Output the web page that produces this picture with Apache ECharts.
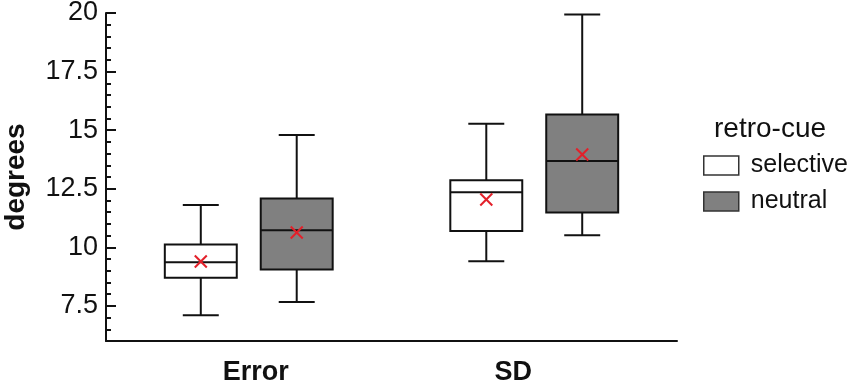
<!DOCTYPE html>
<html>
<head>
<meta charset="utf-8">
<script src="https://cdn.jsdelivr.net/npm/echarts@6/dist/echarts.min.js"></script>
<style>
  html, body { margin: 0; padding: 0; background: #fff; }
  #chartdiv { width: 850px; height: 384px; }
</style>
</head>
<body>
<div id="chartdiv"></div>
<script>
const categories = ["Error", "SD"];
const groups = ["selective", "neutral"];

// five-number summaries per group, one entry per category
const selMin = [7.1, 9.4];
const selQ1 = [8.7, 10.7];
const selMed = [9.36, 12.35];
const selQ3 = [10.12, 12.86];
const selMax = [11.8, 15.27];
const selMean = [9.39, 12.04];

const neuMin = [7.66, 10.51];
const neuQ1 = [9.05, 11.48];
const neuMed = [10.73, 13.68];
const neuQ3 = [12.08, 15.67];
const neuMax = [14.79, 19.94];
const neuMean = [10.63, 13.96];

const yTicks = [7.5, 10, 12.5, 15, 17.5, 20];

const FONT = "'Liberation Sans', Arial, sans-serif";

function buildRows(mn, q1, med, q3, mx, mean) {
  return categories.map((c, i) => [c, mn[i], q1[i], med[i], q3[i], mx[i], mean[i]]);
}

// draws one box with half-width whisker caps and a red mean cross
function boxRenderer(offset) {
  return function (params, api) {
    const cat = api.value(0);
    const band = api.size([1, 0])[0];
    const cx = api.coord([cat, 0])[0] + offset * band;
    const half = band * 0.126;
    const cap = half / 2;
    const yy = i => api.coord([cat, api.value(i)])[1];
    const yMin = yy(1), yQ1 = yy(2), yMed = yy(3), yQ3 = yy(4), yMax = yy(5), yMean = yy(6);
    const ln = { stroke: "#111", lineWidth: 2 };
    const red = { stroke: "#e3202a", lineWidth: 2 };
    const m = 6;
    return {
      type: "group",
      children: [
        { type: "line", shape: { x1: cx, y1: yMax, x2: cx, y2: yQ3 }, style: ln },
        { type: "line", shape: { x1: cx, y1: yQ1, x2: cx, y2: yMin }, style: ln },
        { type: "line", shape: { x1: cx - cap, y1: yMax, x2: cx + cap, y2: yMax }, style: ln },
        { type: "line", shape: { x1: cx - cap, y1: yMin, x2: cx + cap, y2: yMin }, style: ln },
        {
          type: "rect",
          shape: { x: cx - half, y: yQ3, width: half * 2, height: yQ1 - yQ3 },
          style: { fill: api.visual("color"), stroke: "#111", lineWidth: 2 }
        },
        { type: "line", shape: { x1: cx - half, y1: yMed, x2: cx + half, y2: yMed }, style: ln },
        { type: "line", shape: { x1: cx - m, y1: yMean - m, x2: cx + m, y2: yMean + m }, style: red },
        { type: "line", shape: { x1: cx - m, y1: yMean + m, x2: cx + m, y2: yMean - m }, style: red }
      ]
    };
  };
}

const chart = echarts.init(document.getElementById("chartdiv"));

const option = {
  animation: false,
  textStyle: { fontFamily: FONT },
  title: {
    text: "retro-cue",
    left: 709,
    top: 110,
    textStyle: { fontFamily: FONT, fontSize: 28, fontWeight: "normal", color: "#111" }
  },
  legend: {
    data: groups,
    orient: "vertical",
    left: 698,
    top: 148,
    icon: "rect",
    itemWidth: 35,
    itemHeight: 19,
    itemGap: 11,
    itemStyle: { borderColor: "#333", borderWidth: 1.5 },
    textStyle: { fontFamily: FONT, fontSize: 25, color: "#111", padding: [0, 0, 0, 7] }
  },
  grid: { left: 106, right: 173, top: 13, bottom: 43, outerBoundsMode: "none", containLabel: false },
  xAxis: {
    type: "category",
    data: categories,
    axisLine: { lineStyle: { color: "#111", width: 2 } },
    axisTick: { show: false },
    axisLabel: {
      margin: 18,
      fontFamily: FONT,
      fontSize: 27,
      fontWeight: "bold",
      color: "#111",
      formatter: v => (v === "SD" ? "{sd|" + v + "}" : "{er|" + v + "}"),
      rich: {
        er: { fontFamily: FONT, fontSize: 27, fontWeight: "bold", color: "#111", padding: [0, 0, 0, 14] },
        sd: { fontFamily: FONT, fontSize: 27, fontWeight: "bold", color: "#111", padding: [0, 42, 0, 0] }
      }
    },
    splitLine: { show: false }
  },
  yAxis: [
    {
      type: "value",
      min: 6,
      max: 20,
      position: "left",
      name: "degrees",
      nameLocation: "middle",
      nameRotate: 90,
      nameGap: 76,
      nameTextStyle: { fontFamily: FONT, fontSize: 28, fontWeight: "bold", color: "#111" },
      axisLine: { show: true, lineStyle: { color: "#111", width: 2 } },
      axisTick: { show: true, inside: true, length: 10, customValues: yTicks, lineStyle: { color: "#111", width: 2 } },
      axisLabel: {
        customValues: yTicks,
        margin: 8,
        fontFamily: FONT,
        fontSize: 27,
        color: "#111"
      },
      splitLine: { show: false }
    },
    {
      type: "value",
      min: 6,
      max: 20,
      interval: 0.5,
      position: "left",
      axisLine: { show: false },
      axisTick: { show: true, inside: true, length: 5, lineStyle: { color: "#111", width: 2 } },
      axisLabel: { show: false },
      splitLine: { show: false }
    }
  ],
  series: [
    {
      name: "selective",
      type: "custom",
      renderItem: boxRenderer(-0.168),
      itemStyle: { color: "#ffffff" },
      encode: { x: 0, y: [1, 2, 3, 4, 5, 6] },
      data: buildRows(selMin, selQ1, selMed, selQ3, selMax, selMean)
    },
    {
      name: "neutral",
      type: "custom",
      renderItem: boxRenderer(0.168),
      itemStyle: { color: "#808080" },
      encode: { x: 0, y: [1, 2, 3, 4, 5, 6] },
      data: buildRows(neuMin, neuQ1, neuMed, neuQ3, neuMax, neuMean)
    }
  ]
};

chart.setOption(option);
</script>
</body>
</html>
